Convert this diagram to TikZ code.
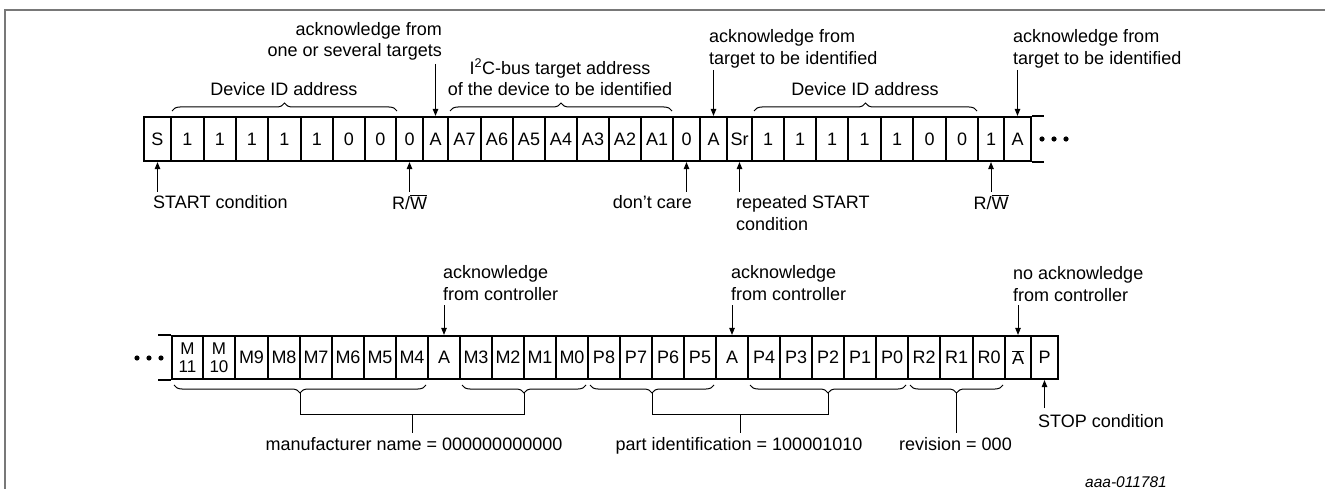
\documentclass[tikz,border=0pt]{standalone}
\usepackage{fontspec}
\setmainfont{Liberation Sans}
\usetikzlibrary{arrows.meta,decorations.pathreplacing}
\newcommand\lblfont{\fontsize{18}{21.5}\selectfont}
\newcommand\smfont{\fontsize{17}{18}\selectfont}
\newcommand\tagfont{\fontsize{15.5}{18}\selectfont\itshape}
\definecolor{framegray}{RGB}{120,120,120}
\begin{document}
\begin{tikzpicture}[x=1pt,y=-1pt,
  cell/.style={draw, line width=2.2pt, inner sep=0pt, font=\lblfont},
  cellA/.style={cell, minimum height=44pt},
  cellB/.style={cell, minimum height=43pt},
  lbl/.style={inner sep=0pt, font=\lblfont},
  arr/.style={line width=1pt, -{Triangle[length=7pt,width=5.5pt]}},
  brc/.style={decorate, decoration={brace, amplitude=8pt}, line width=1pt},
  conn/.style={line width=1pt},
  framel/.style={draw=framegray, line width=1.5pt}]
\useasboundingbox (0,0) rectangle (1325,489);
\draw[framel] (5,489) -- (5,10) -- (1325,10);

% ---------- row 1 ----------
\foreach \xa/\xb/\lab [count=\i] in {144/171/S, 171/204/1, 204/236/1, 236/268/1, 268/301/1,
  301/333/1, 333/365/0, 365/396/0, 396/423/0, 423/448/A, 448/481/A7, 481/513/A6,
  513/545/A5, 545/577/A4, 577/609/A3, 609/641/A2, 641/673/A1, 673/700/0, 700/727/A,
  727/752/Sr, 752/784/1, 784/816/1, 816/848/1, 848/881/1, 881/913/1, 913/946/0,
  946/978/0, 978/1004/1, 1004/1031/A}
  \node[cellA, minimum width={(\xb-\xa)*1pt}] (c\i) at ({(\xa+\xb)/2},139) {\lab};
\draw[line width=2.2pt] (c29.north east) -- ++(12,0);
\draw[line width=2.2pt] (c29.south east) -- ++(12,0);
\foreach \dx in {1042,1054,1066} \fill (\dx,139) circle[radius=2.6pt];

% braces above row 1
\draw[brc] (172,111) -- (397,111);
\draw[brc] (450,111) -- (672,111);
\draw[brc] (754,111) -- (977,111);
\node[lbl] (dev1) at (284,89) {Device ID address};
\node[lbl, align=center] (i2c) at (560,77.5) {I\textsuperscript{2}C-bus target address\\of the device to be identified};
\node[lbl] (dev2) at (865,89) {Device ID address};

% labels above row 1
\node[lbl, align=right, anchor=east] (ack1) at (442,41.5) {acknowledge from\hspace{5pt}\\one or several targets};
\draw[arr] (c10.north |- 0,64) -- (c10.north);
\node[lbl, align=left, anchor=west] (ack2) at (709,49) {acknowledge from\\target to be identified};
\draw[arr] (c19.north |- 0,70) -- (c19.north);
\node[lbl, align=left, anchor=west] (ack3) at (1013,49) {acknowledge from\\target to be identified};
\draw[arr] (c29.north |- 0,70) -- (c29.north);

% labels below row 1
\node[lbl, anchor=west] (start) at (153,202) {START condition};
\draw[arr] (c1.south |- 0,192) -- (c1.south);
\node[lbl] (rw1) at (409.5,202) {R/$\overline{\mbox{W}}$};
\draw[arr] (c9.south |- 0,192) -- (c9.south);
\node[lbl, anchor=east] (dc) at (692,202) {don't care};
\draw[arr] (c18.south |- 0,192) -- (c18.south);
\node[lbl, align=left, anchor=west] (rstart) at (736,213) {repeated START\\condition};
\draw[arr] (c20.south |- 0,192) -- (c20.south);
\node[lbl] (rw2) at (991,202) {R/$\overline{\mbox{W}}$};
\draw[arr] (c28.south |- 0,192) -- (c28.south);

% ---------- row 2 ----------
\node[cellB, minimum width=31pt, font=\smfont, align=center] (d1) at (187.5,357.5) {M\\11};
\node[cellB, minimum width=32pt, font=\smfont, align=center] (d2) at (219,357.5) {M\\10};
\foreach \xa/\xb/\lab [count=\i from 3] in {235/268/M9, 268/300/M8, 300/332/M7, 332/364/M6,
  364/396/M5, 396/428/M4, 428/460/A, 460/492/M3, 492/524/M2, 524/556/M1, 556/588/M0,
  588/620/P8, 620/652/P7, 652/684/P6, 684/716/P5, 716/748/A, 748/780/P4, 780/812/P3,
  812/844/P2, 844/876/P1, 876/908/P0, 908/940/R2, 940/973/R1, 973/1005/R0}
  \node[cellB, minimum width={(\xb-\xa)*1pt}] (d\i) at ({(\xa+\xb)/2},357.5) {\lab};
\node[cellB, minimum width=26pt] (d27) at (1018,357.5) {$\overline{\mbox{A}}$};
\node[cellB, minimum width=27pt] (d28) at (1044.5,357.5) {P};
\draw[line width=2.2pt] (d1.north west) -- ++(-13,0);
\draw[line width=2.2pt] (d1.south west) -- ++(-13,0);
\foreach \dx in {137,149,161} \fill (\dx,358) circle[radius=2.6pt];

% labels above row 2
\node[lbl, align=left, anchor=west] (ackc1) at (443,283) {acknowledge\\from controller};
\draw[arr] (d9.north |- 0,305) -- (d9.north);
\node[lbl, align=left, anchor=west] (ackc2) at (731,283) {acknowledge\\from controller};
\draw[arr] (d18.north |- 0,305) -- (d18.north);
\node[lbl, align=left, anchor=west] (nack) at (1013,284) {no acknowledge\\from controller};
\draw[arr] (d27.north |- 0,305) -- (d27.north);
\node[lbl, anchor=west] (stop) at (1038,421) {STOP condition};
\draw[arr] (d28.south |- 0,408) -- (d28.south);

% braces below row 2
\draw[brc] (426,385) -- (174,385);
\draw[brc] (586,385) -- (462,385);
\draw[brc] (714,385) -- (590,385);
\draw[brc] (906,385) -- (750,385);
\draw[brc] (1003,385) -- (910,385);
\coordinate (m1) at (300,393);
\coordinate (m2) at (524,393);
\coordinate (mj) at (412,414);
\coordinate (p1) at (652,393);
\coordinate (p2) at (828,393);
\coordinate (pj) at (740,414);
\coordinate (r1) at (956.5,393);
\node[lbl, inner ysep=4pt, anchor=north] (mname) at (414,433) {manufacturer name = 000000000000};
\node[lbl, inner ysep=4pt, anchor=north] (pname) at (739,433) {part identification = 100001010};
\node[lbl, inner ysep=4pt, anchor=north] (rname) at (955.5,433) {revision = 000};
\draw[conn] (m1) -- (m1 |- mj) -- (m2 |- mj) -- (m2);
\draw[conn] (mj) -- (mj |- mname.north);
\draw[conn] (p1) -- (p1 |- pj) -- (p2 |- pj) -- (p2);
\draw[conn] (pj) -- (pj |- pname.north);
\draw[conn] (r1) -- (r1 |- rname.north);

\node[inner sep=0pt, font=\tagfont, anchor=east] (tag) at (1167,482) {aaa-011781};
\end{tikzpicture}
\end{document}
